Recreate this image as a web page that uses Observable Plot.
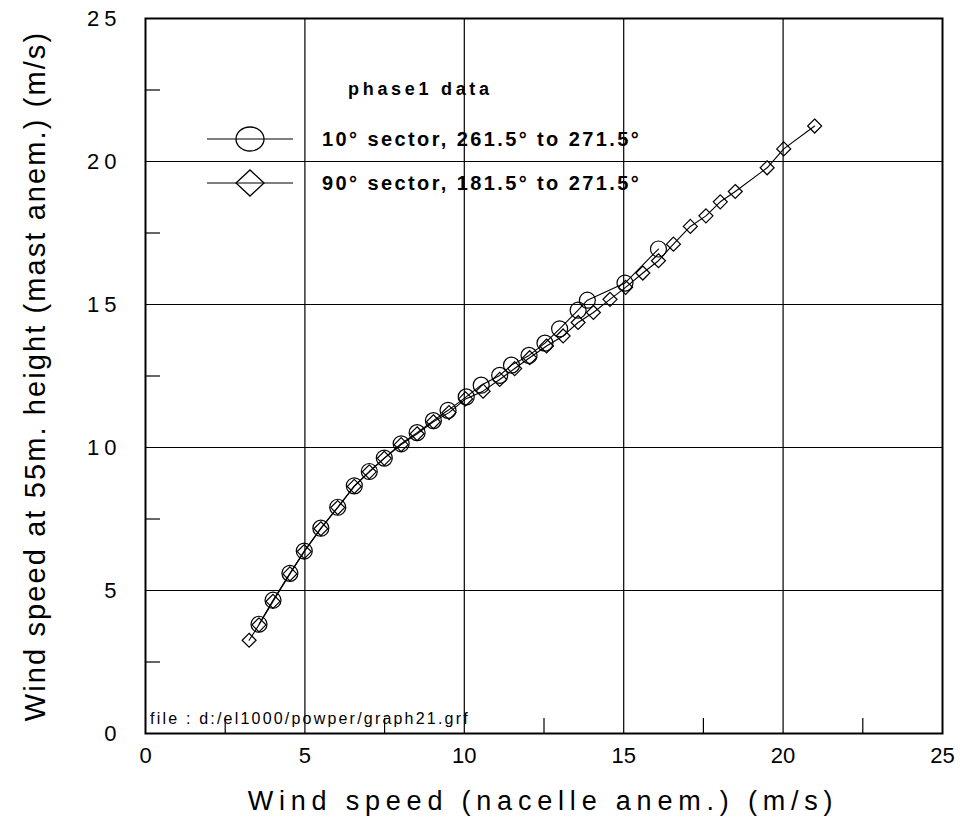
<!DOCTYPE html>
<html>
<head>
<meta charset="utf-8">
<script src="https://cdn.jsdelivr.net/npm/d3@7"></script>
<script src="https://cdn.jsdelivr.net/npm/@observablehq/plot@0.6"></script>
<style>
  html, body { margin: 0; padding: 0; background: white; }
  #chart svg { display: block; }
</style>
</head>
<body>
<div id="chart"></div>
<script>
// 10° sector, 261.5° to 271.5° (circles)
const sector10X = [3.56, 4.00, 4.53, 4.98, 5.50, 6.03, 6.55, 7.02, 7.49, 8.02, 8.52, 9.03, 9.49, 10.06, 10.53, 11.11, 11.48, 12.03, 12.53, 12.99, 13.57, 13.86, 15.04, 16.09];
const sector10Y = [3.82, 4.66, 5.60, 6.38, 7.18, 7.91, 8.66, 9.16, 9.63, 10.13, 10.52, 10.94, 11.30, 11.77, 12.18, 12.52, 12.88, 13.22, 13.65, 14.15, 14.80, 15.15, 15.75, 16.94];

// 90° sector, 181.5° to 271.5° (diamonds)
const sector90X = [3.25, 3.56, 4.00, 4.53, 4.98, 5.50, 6.03, 6.55, 7.02, 7.49, 8.02, 8.52, 9.03, 9.52, 10.04, 10.59, 11.11, 11.58, 12.05, 12.58, 13.10, 13.57, 14.05, 14.57, 15.06, 15.60, 16.09, 16.56, 17.09, 17.58, 18.03, 18.50, 19.50, 20.02, 20.99];
const sector90Y = [3.26, 3.80, 4.62, 5.58, 6.36, 7.16, 7.90, 8.64, 9.15, 9.62, 10.10, 10.48, 10.90, 11.22, 11.70, 11.97, 12.38, 12.76, 13.14, 13.55, 13.90, 14.37, 14.72, 15.18, 15.60, 16.10, 16.53, 17.11, 17.73, 18.10, 18.59, 18.95, 19.78, 20.44, 21.24];

const majorTicks = [0, 5, 10, 15, 20, 25];
const gridValues = [5, 10, 15, 20];
const minorTicks = [2.5, 7.5, 12.5, 17.5, 22.5];

const legendTitle = "phase1 data";
const legendLabels = ["10° sector, 261.5° to 271.5°", "90° sector, 181.5° to 271.5°"];
const xTitle = "Wind speed (nacelle anem.) (m/s)";
const yTitle = "Wind speed at 55m. height (mast anem.) (m/s)";
const fileNote = "file : d:/el1000/powper/graph21.grf";

const circ = sector10X.map((x, i) => ({x, y: sector10Y[i]}));
const diam = sector90X.map((x, i) => ({x, y: sector90Y[i]}));

const W = 962, H = 820;
const mL = 145, mR = 20, mT = 18, mB = 87;
const frameW = W - mL - mR, frameH = H - mT - mB;
const tickLen = 15;
const font = "'Liberation Sans', Arial, Helvetica, sans-serif";

const chart = Plot.plot({
  width: W, height: H,
  marginLeft: mL, marginRight: mR, marginTop: mT, marginBottom: mB,
  style: {fontFamily: font, background: "white", color: "black"},
  x: {domain: [0, 25]},
  y: {domain: [0, 25]},
  marks: [
    Plot.gridX(gridValues, {stroke: "black", strokeOpacity: 1, strokeWidth: 1.2}),
    Plot.gridY(gridValues, {stroke: "black", strokeOpacity: 1, strokeWidth: 1.2}),
    Plot.ruleX(minorTicks, {stroke: "black", strokeWidth: 1.2, insetTop: frameH - tickLen}),
    Plot.ruleY(minorTicks, {stroke: "black", strokeWidth: 1.2, insetRight: frameW - tickLen}),
    Plot.axisX(majorTicks, {tickSize: 0, tickPadding: 14, fontSize: 22, label: null, tickFormat: d => String(d)}),
    Plot.axisY(majorTicks, {tickSize: 0, tickPadding: 24, fontSize: 22, label: null, tickFormat: d => String(d)}),
    Plot.line(diam, {x: "x", y: "y", stroke: "black", strokeWidth: 1.1}),
    Plot.line(circ, {x: "x", y: "y", stroke: "black", strokeWidth: 1.1}),
    Plot.dot(diam, {x: "x", y: "y", symbol: "diamond2", r: 6.3, stroke: "black", fill: "none", strokeWidth: 1.2}),
    Plot.dot(circ, {x: "x", y: "y", r: 8, stroke: "black", fill: "none", strokeWidth: 1.2}),
    Plot.frame({stroke: "black", strokeWidth: 2})
  ]
});

document.getElementById("chart").appendChild(chart);

const svg = d3.select(chart);
svg.selectAll("[aria-label='y-axis tick label'] text").style("letter-spacing", "5px");

// axis titles
svg.append("text")
  .attr("x", 543).attr("y", 810)
  .attr("text-anchor", "middle")
  .style("font-family", font).style("font-size", "27px").style("letter-spacing", "5.8px")
  .text(xTitle);

svg.append("text")
  .attr("transform", "translate(45,376) rotate(-90)")
  .attr("text-anchor", "middle")
  .style("font-family", font).style("font-size", "29px").style("letter-spacing", "2.1px")
  .text(yTitle);

// legend
const lg = svg.append("g").style("font-family", font).style("font-weight", "bold").attr("text-anchor", "start");
lg.append("text").attr("x", 348).attr("y", 95).attr("text-anchor", "start").style("font-size", "18px").style("letter-spacing", "3.7px").text(legendTitle);

const rows = [139, 183];
rows.forEach((ry, i) => {
  lg.append("line").attr("x1", 207).attr("x2", 293).attr("y1", ry).attr("y2", ry).attr("stroke", "black").attr("stroke-width", 1.2);
  if (i === 0) {
    lg.append("ellipse").attr("cx", 250).attr("cy", ry).attr("rx", 14).attr("ry", 12).attr("fill", "none").attr("stroke", "black").attr("stroke-width", 1.3);
  } else {
    lg.append("path").attr("d", `M236,${ry} L250,${ry - 13} L264,${ry} L250,${ry + 13} Z`).attr("fill", "none").attr("stroke", "black").attr("stroke-width", 1.3);
  }
  lg.append("text").attr("x", 322).attr("y", ry + 7).attr("text-anchor", "start").style("font-size", "20px").style("letter-spacing", "2.4px").text(legendLabels[i]);
});

svg.append("text")
  .attr("x", 150).attr("y", 724).attr("text-anchor", "start")
  .style("font-family", font).style("font-size", "16px").style("letter-spacing", "2.2px")
  .text(fileNote);
</script>
</body>
</html>
